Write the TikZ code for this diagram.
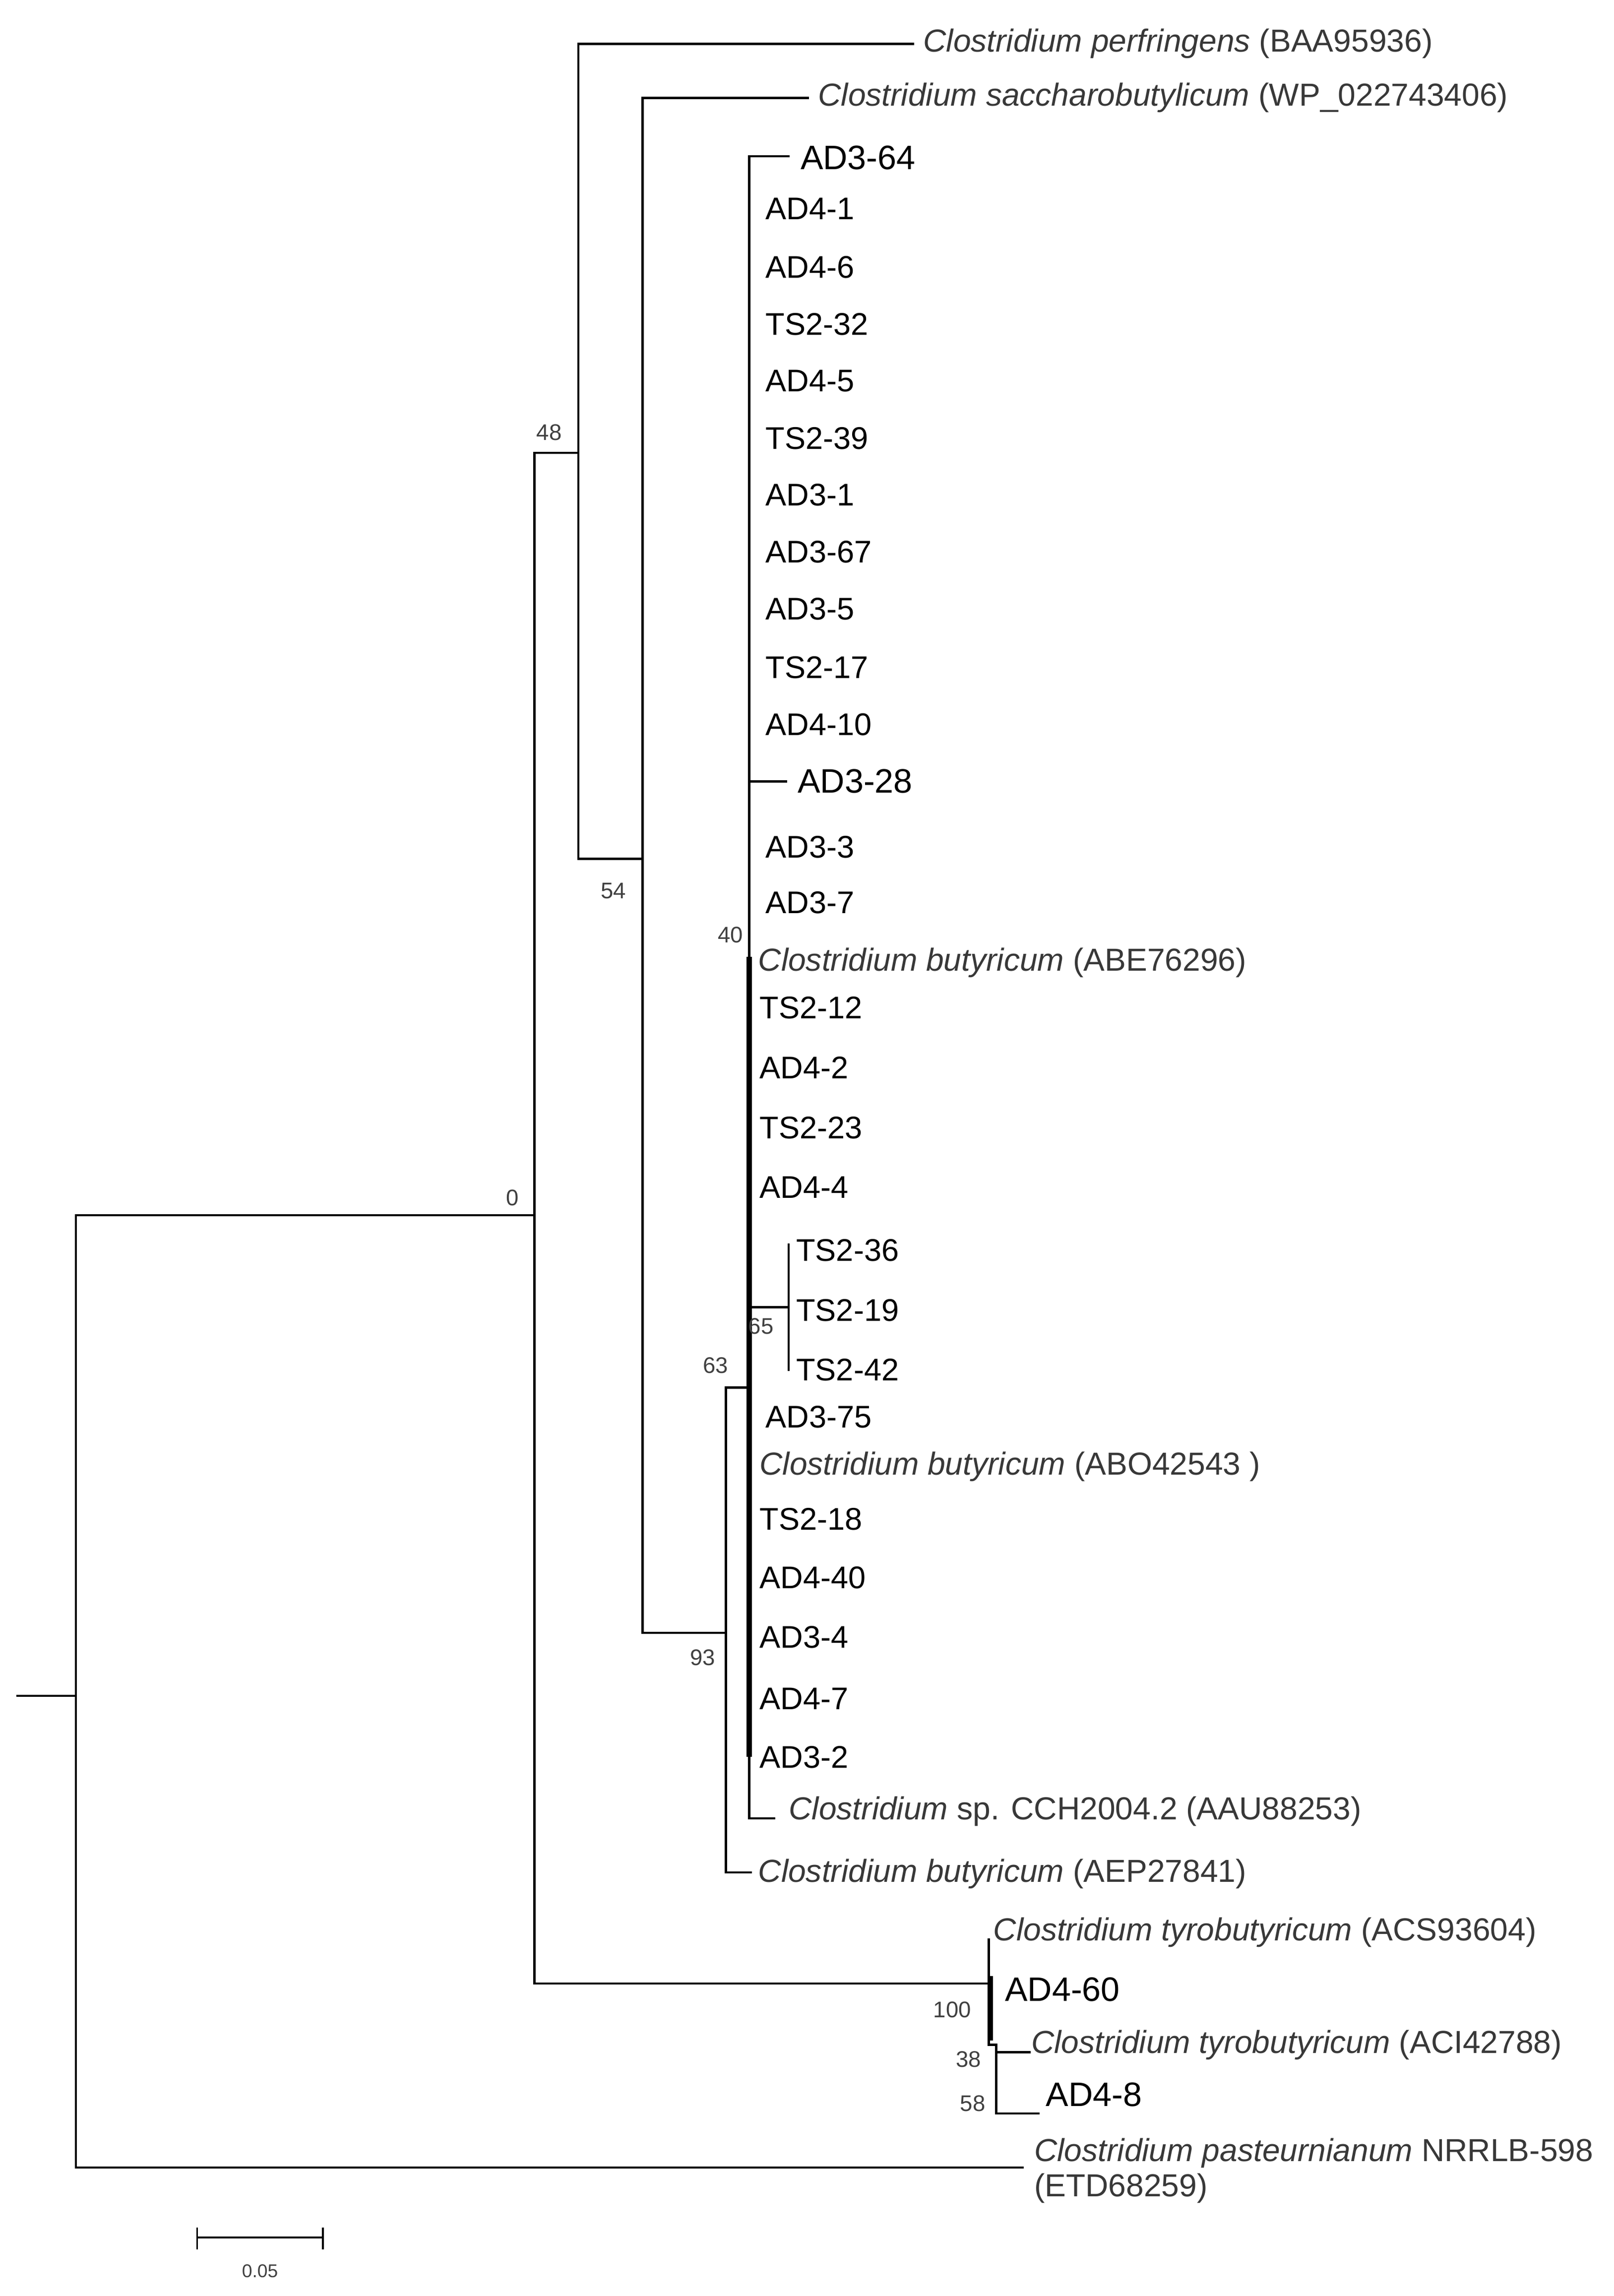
\documentclass[tikz,border=0pt]{standalone}
\usepackage{fontspec}
\setmainfont{Liberation Sans}
\begin{document}
\begin{tikzpicture}[x=0.05cm,y=-0.05cm,
  br/.style={line width=2.2pt,line cap=rect},
  thk/.style={line width=5pt},
  lab/.style={anchor=west,inner sep=0pt,font=\fontsize{30.5}{33}\selectfont},
  big/.style={anchor=west,inner sep=0pt,font=\fontsize{33}{36}\selectfont},
  sp/.style={anchor=west,inner sep=0pt,text=black!78,font=\fontsize{31}{34}\selectfont},
  bs/.style={inner sep=0pt,text=black!75,font=\fontsize{22}{24}\selectfont}]
\useasboundingbox (0,0) rectangle (1105,1572);
% internal nodes
\coordinate (r) at (52,1161);
\coordinate (n0) at (366,832);
\coordinate (n48) at (396,310);
\coordinate (n54) at (440,588);
\coordinate (n93) at (497,1118);
\coordinate (n63) at (513,950);
\coordinate (n65) at (540,895);
\coordinate (nt) at (677,1358);
\coordinate (n58) at (682,1400);
\coordinate (root) at (12,1161);
% leaves
\node[sp] (perf) at (632,30) {\textit{Clostridium perfringens} (BAA95936)};
\node[sp] (sacc) at (560,67) {\textit{Clostridium saccharobutylicum} (WP\_022743406)};
\node[big] (a364) at (548,108) {AD3-64};
\node[lab] (a41) at (524,143) {AD4-1};
\node[lab] (a46) at (524,183) {AD4-6};
\node[lab] (t232) at (524,222) {TS2-32};
\node[lab] (a45) at (524,261) {AD4-5};
\node[lab] (t239) at (524,300) {TS2-39};
\node[lab] (a31) at (524,339) {AD3-1};
\node[lab] (a367) at (524,378) {AD3-67};
\node[lab] (a35) at (524,417) {AD3-5};
\node[lab] (t217) at (524,457) {TS2-17};
\node[lab] (a410) at (524,496) {AD4-10};
\node[big] (a328) at (546,535) {AD3-28};
\node[lab] (a33) at (524,580) {AD3-3};
\node[lab] (a37) at (524,618) {AD3-7};
\node[sp] (cb1) at (519,659) {\textit{Clostridium butyricum} (ABE76296)};
\node[lab] (t212) at (520,690) {TS2-12};
\node[lab] (a42) at (520,731) {AD4-2};
\node[lab] (t223) at (520,772) {TS2-23};
\node[lab] (a44) at (520,813) {AD4-4};
\node[lab] (t236) at (545,856) {TS2-36};
\node[lab] (t219) at (545,897) {TS2-19};
\node[lab] (t242) at (545,938) {TS2-42};
\node[lab] (a375) at (524,970) {AD3-75};
\node[sp] (cb2) at (520,1004) {\textit{Clostridium butyricum} (ABO42543 )};
\node[lab] (t218) at (520,1040) {TS2-18};
\node[lab] (a440) at (520,1080) {AD4-40};
\node[lab] (a34) at (520,1121) {AD3-4};
\node[lab] (a47) at (520,1163) {AD4-7};
\node[lab] (a32) at (520,1203) {AD3-2};
\node[sp] (csp) at (540,1240) {\textit{Clostridium} sp. CCH2004.2 (AAU88253)};
\node[sp] (cb3) at (519,1283) {\textit{Clostridium butyricum} (AEP27841)};
\node[sp] (ty1) at (680,1323) {\textit{Clostridium tyrobutyricum} (ACS93604)};
\node[big] (a460) at (688,1362) {AD4-60};
\node[sp] (ty2) at (706,1400) {\textit{Clostridium tyrobutyricum} (ACI42788)};
\node[big] (a48) at (716,1434) {AD4-8};
\node[sp,align=left,anchor=north west] (past) at (708,1464) {\textit{Clostridium pasteurnianum} NRRLB-598\\(ETD68259)};
% branches
\draw[br] (root) -- (r);
\draw[br] (n0) -| (52,1484) -- (700,1484);
\draw[br] (n48) -| (366,1358) -- (nt);
\draw[br] (625,30) -| (396,588) -- (n54);
\draw[br] (553,67) -| (440,1118) -- (n93);
\draw[br] (n63) -| (497,1282) -- (514,1282);
\draw[br] (540,107) -| (513,1245) -- (530,1245);
\draw[thk] (513,655) -- (513,1203);
\draw[br] (513,535) -- (538,535);
\draw[br] (513,895) -- (n65);
\draw[br] (540,852) -- (540,938);
\draw[br] (nt) -- (677,1328);
\draw[br] (nt) -- (677,1400) -- (n58);
\draw[thk] (678,1353) -- (678,1397);
\draw[br] (705,1405) -| (n58) |- (711,1447);
% supports
\node[bs] at (351,820) {0};
\node[bs] at (376,296) {48};
\node[bs] at (420,610) {54};
\node[bs] at (481,1135) {93};
\node[bs] at (490,935) {63};
\node[bs] at (521,908) {65};
\node[bs] at (500,640) {40};
\node[bs] at (652,1376) {100};
\node[bs] at (663,1410) {38};
\node[bs] at (666,1440) {58};
% scale bar
\coordinate (s1) at (135,1532);
\coordinate (s2) at (221,1532);
\draw[line width=1.8pt] (s1) -- (s2) (135,1525) -- (135,1540) (221,1525) -- (221,1540);
\node[bs,font=\fontsize{18}{20}\selectfont] (sc) at (178,1555) {0.05};
\end{tikzpicture}
\end{document}
